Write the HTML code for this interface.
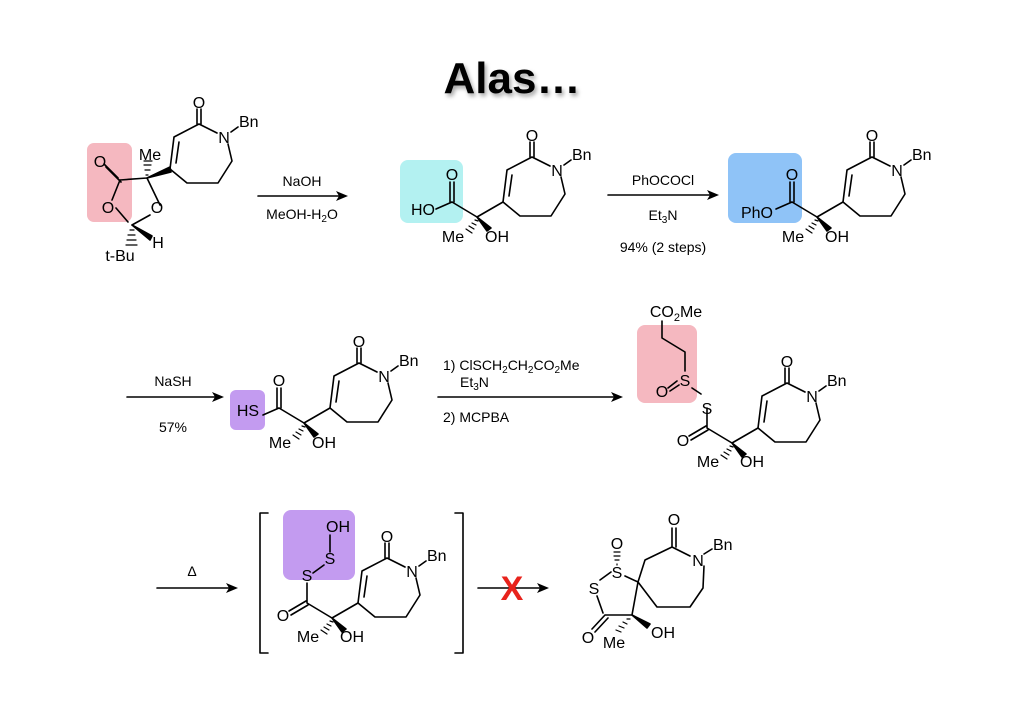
<!DOCTYPE html>
<html><head><meta charset="utf-8"><style>
html,body{margin:0;padding:0;background:#fff;}
svg{display:block;}
text{font-family:"Liberation Sans",Arial,sans-serif;fill:#000;}
.a{font-size:16px;}
.c{font-size:14px;}
</style></head><body>
<svg width="1024" height="724" viewBox="0 0 1024 724" xmlns="http://www.w3.org/2000/svg">
<defs>
<filter id="sh" x="-10%" y="-10%" width="130%" height="140%"><feDropShadow dx="2" dy="3" stdDeviation="2" flood-color="#000" flood-opacity="0.35"/></filter>
</defs>
<text x="512" y="93" text-anchor="middle" font-size="44" font-weight="bold" filter="url(#sh)">Alas…</text>

<!-- highlight boxes -->
<rect x="87" y="143" width="45" height="79" rx="7" fill="#f5b8c0"/>
<rect x="400" y="160" width="63" height="63" rx="8" fill="#b3f1f1"/>
<rect x="728" y="153" width="74" height="70" rx="8" fill="#8fc3f7"/>
<rect x="230" y="390" width="35" height="40" rx="6" fill="#c39bf0"/>
<rect x="637" y="325" width="60" height="78" rx="8" fill="#f5b8c0"/>
<rect x="283" y="510" width="72" height="70" rx="8" fill="#c39bf0"/>

<g stroke="#000" stroke-width="1.6" fill="none" stroke-linecap="round" stroke-linejoin="round">

<!-- ===== Compound 1 ===== -->
<g transform="translate(170,169)">
<path d="M0,0 L4,-32 L29,-45 L47,-36 M58,-25 L62,-8 L48,14 L17,14 L0,0 M6,-6 L9,-27 M27,-45 L27,-60 M31,-45 L31,-60 M61,-37 L68,-42"/>
</g>
<polygon points="147,178 170,167 171,172" fill="#000"/>
<path d="M147,178 L120,180 M120,180 L112,200 M116,208 L128,222 M160,205 L147,178 M121,182 L106,167 M118,178 L104,164"/>
<path d="M148,175 L146,175 M150,170 L145,170 M151,165 L144,165 M152,161 L144,161" stroke-width="1.2"/>
<path d="M132,225 L150,215"/>
<polygon points="132,225 152,236 150,240" fill="#000"/>
<path d="M130,230 L134,230 M128,235 L135,235 M127,240 L136,240 M126,245 L137,245" stroke-width="1.2"/>

<!-- ===== Compound 2 ===== -->
<g transform="translate(503,202)">
<path d="M0,0 L4,-32 L29,-45 L47,-36 M58,-25 L62,-8 L48,14 L17,14 L0,0 M6,-6 L9,-27 M27,-45 L27,-60 M31,-45 L31,-60 M61,-37 L68,-42"/>
<path d="M0,0 L-26,15 L-51,0 M-53,0 L-53,-20 M-49,0 L-49,-20 M-51,0 L-67,7"/>
<path d="M-28,18 L-25,19 M-31,21 L-27,23 M-34,24 L-29,27 M-37,27 L-31,31" stroke-width="1.2"/>
<polygon points="-26,15 -16,29 -12,26" fill="#000"/>
</g>

<!-- ===== Compound 3 ===== -->
<g transform="translate(843,202)">
<path d="M0,0 L4,-32 L29,-45 L47,-36 M58,-25 L62,-8 L48,14 L17,14 L0,0 M6,-6 L9,-27 M27,-45 L27,-60 M31,-45 L31,-60 M61,-37 L68,-42"/>
<path d="M0,0 L-26,15 L-51,0 M-53,0 L-53,-20 M-49,0 L-49,-20 M-51,0 L-67,7"/>
<path d="M-28,18 L-25,19 M-31,21 L-27,23 M-34,24 L-29,27 M-37,27 L-31,31" stroke-width="1.2"/>
<polygon points="-26,15 -16,29 -12,26" fill="#000"/>
</g>

<!-- ===== Compound 4 ===== -->
<g transform="translate(330,408)">
<path d="M0,0 L4,-32 L29,-45 L47,-36 M58,-25 L62,-8 L48,14 L17,14 L0,0 M6,-6 L9,-27 M27,-45 L27,-60 M31,-45 L31,-60 M61,-37 L68,-42"/>
<path d="M0,0 L-26,15 L-51,0 M-53,0 L-53,-20 M-49,0 L-49,-20 M-51,0 L-67,7"/>
<path d="M-28,18 L-25,19 M-31,21 L-27,23 M-34,24 L-29,27 M-37,27 L-31,31" stroke-width="1.2"/>
<polygon points="-26,15 -16,29 -12,26" fill="#000"/>
</g>

<!-- ===== Compound 5 ===== -->
<g transform="translate(758,428)">
<path d="M0,0 L4,-32 L29,-45 L47,-36 M58,-25 L62,-8 L48,14 L17,14 L0,0 M6,-6 L9,-27 M27,-45 L27,-60 M31,-45 L31,-60 M61,-37 L68,-42"/>
<path d="M0,0 L-26,15 L-51,0 M-51,0 L-51,-20 M-50,2 L-67,12 M-52,-2 L-69,8"/>
<path d="M-28,18 L-25,19 M-31,21 L-27,23 M-34,24 L-29,27 M-37,27 L-31,31" stroke-width="1.2"/>
<polygon points="-26,15 -16,29 -12,26" fill="#000"/>
</g>
<path d="M701,394 L692,388 M677,381 L668,388 M679,385 L670,391 M685,371 L685,352 L662,338 L662,321"/>

<!-- ===== Compound 6 ===== -->
<g transform="translate(358,603)">
<path d="M0,0 L4,-32 L29,-45 L47,-36 M58,-25 L62,-8 L48,14 L17,14 L0,0 M6,-6 L9,-27 M27,-45 L27,-60 M31,-45 L31,-60 M61,-37 L68,-42"/>
<path d="M0,0 L-26,15 L-51,0 M-51,0 L-51,-20 M-50,2 L-67,12 M-52,-2 L-69,8"/>
<path d="M-28,18 L-25,19 M-31,21 L-27,23 M-34,24 L-29,27 M-37,27 L-31,31" stroke-width="1.2"/>
<polygon points="-26,15 -16,29 -12,26" fill="#000"/>
</g>
<path d="M313,573 L324,565 M330,552 L330,535"/>
<path d="M268,513 L260,513 L260,653 L268,653 M455,513 L463,513 L463,653 L455,653"/>

<!-- ===== Compound 7 ===== -->
<path d="M638,582 L645,560 L672,547 L690,556 M672,547 L672,528 M676,547 L676,528 M704,566 L703,588 L690,607 L657,607 L638,582 M704,554 L712,549 M638,582 L625,576 M638,582 L632,615 L605,615 M603,613 L597,596 M605,615 L592,629 M608,618 L595,632 M611,572 L600,580"/>
<path d="M617,565 L617,564 M615,560 L619,560 M614,556 L620,556 M614,552 L620,552" stroke-width="1.2"/>
<path d="M630,619 L627,619 M627,624 L623,622 M624,628 L619,626 M621,632 L616,630" stroke-width="1.2"/>
<polygon points="632,615 647,628 650,624" fill="#000"/>

<!-- ===== Arrows ===== -->
<path d="M258,196 L340,196 M608,195 L710,195 M127,397 L215,397 M438,397 L614,397 M157,588 L229,588 M478,588 L540,588"/>
</g>
<g fill="#000">
<polygon points="348,196 336,191 339,196 336,201"/>
<polygon points="719,195 707,190 710,195 707,200"/>
<polygon points="224,397 212,392 215,397 212,402"/>
<polygon points="623,397 611,392 614,397 611,402"/>
<polygon points="238,588 226,583 229,588 226,593"/>
<polygon points="549,588 537,583 540,588 537,593"/>
</g>

<!-- ===== Atom labels ===== -->
<g class="a" text-anchor="middle">
<!-- c1 -->
<text x="199" y="108">O</text><text x="224" y="143">N</text><text x="239" y="127" text-anchor="start">Bn</text>
<text x="150" y="160">Me</text><text x="100" y="167">O</text><text x="108" y="213">O</text><text x="157" y="213">O</text>
<text x="158" y="248">H</text><text x="120" y="261">t-Bu</text>
<!-- c2 -->
<text x="532" y="141">O</text><text x="557" y="176">N</text><text x="572" y="160" text-anchor="start">Bn</text>
<text x="452" y="180">O</text><text x="423" y="215">HO</text><text x="453" y="242">Me</text><text x="497" y="242">OH</text>
<!-- c3 -->
<text x="872" y="141">O</text><text x="897" y="176">N</text><text x="912" y="160" text-anchor="start">Bn</text>
<text x="792" y="180">O</text><text x="757" y="218">PhO</text><text x="793" y="242">Me</text><text x="837" y="242">OH</text>
<!-- c4 -->
<text x="359" y="347">O</text><text x="384" y="382">N</text><text x="399" y="366" text-anchor="start">Bn</text>
<text x="279" y="386">O</text><text x="248" y="416">HS</text><text x="280" y="448">Me</text><text x="324" y="448">OH</text>
<!-- c5 -->
<text x="787" y="367">O</text><text x="812" y="402">N</text><text x="827" y="386" text-anchor="start">Bn</text>
<text x="707" y="414">S</text><text x="683" y="446">O</text><text x="685" y="386">S</text><text x="662" y="397">O</text>
<text x="676" y="317">CO<tspan font-size="11" dy="4">2</tspan><tspan dy="-4">Me</tspan></text>
<text x="708" y="467">Me</text><text x="752" y="467">OH</text>
<!-- c6 -->
<text x="387" y="542">O</text><text x="412" y="577">N</text><text x="427" y="561" text-anchor="start">Bn</text>
<text x="307" y="581">S</text><text x="330" y="564">S</text><text x="338" y="532">OH</text>
<text x="283" y="621">O</text><text x="308" y="642">Me</text><text x="352" y="642">OH</text>
<!-- c7 -->
<text x="674" y="525">O</text><text x="698" y="566">N</text><text x="713" y="550" text-anchor="start">Bn</text>
<text x="617" y="549">O</text><text x="617" y="578">S</text><text x="594" y="594">S</text>
<text x="588" y="643">O</text><text x="614" y="648">Me</text><text x="663" y="638">OH</text>
</g>

<!-- ===== Conditions ===== -->
<g class="c" text-anchor="middle">
<text x="302" y="186">NaOH</text>
<text x="302" y="219">MeOH-H<tspan font-size="10" dy="3">2</tspan><tspan dy="-3">O</tspan></text>
<text x="663" y="185">PhOCOCl</text>
<text x="663" y="220">Et<tspan font-size="10" dy="3">3</tspan><tspan dy="-3">N</tspan></text>
<text x="663" y="252">94% (2 steps)</text>
<text x="173" y="386">NaSH</text>
<text x="173" y="432">57%</text>
<text x="443" y="370" text-anchor="start">1) ClSCH<tspan font-size="10" dy="3">2</tspan><tspan dy="-3">CH</tspan><tspan font-size="10" dy="3">2</tspan><tspan dy="-3">CO</tspan><tspan font-size="10" dy="3">2</tspan><tspan dy="-3">Me</tspan></text>
<text x="460" y="387" text-anchor="start">Et<tspan font-size="10" dy="3">3</tspan><tspan dy="-3">N</tspan></text>
<text x="443" y="422" text-anchor="start">2) MCPBA</text>
<text x="192" y="576">Δ</text>
</g>
<text x="512" y="600" text-anchor="middle" font-size="34" font-weight="bold" style="fill:#e8231c">X</text>
</svg>
</body></html>
